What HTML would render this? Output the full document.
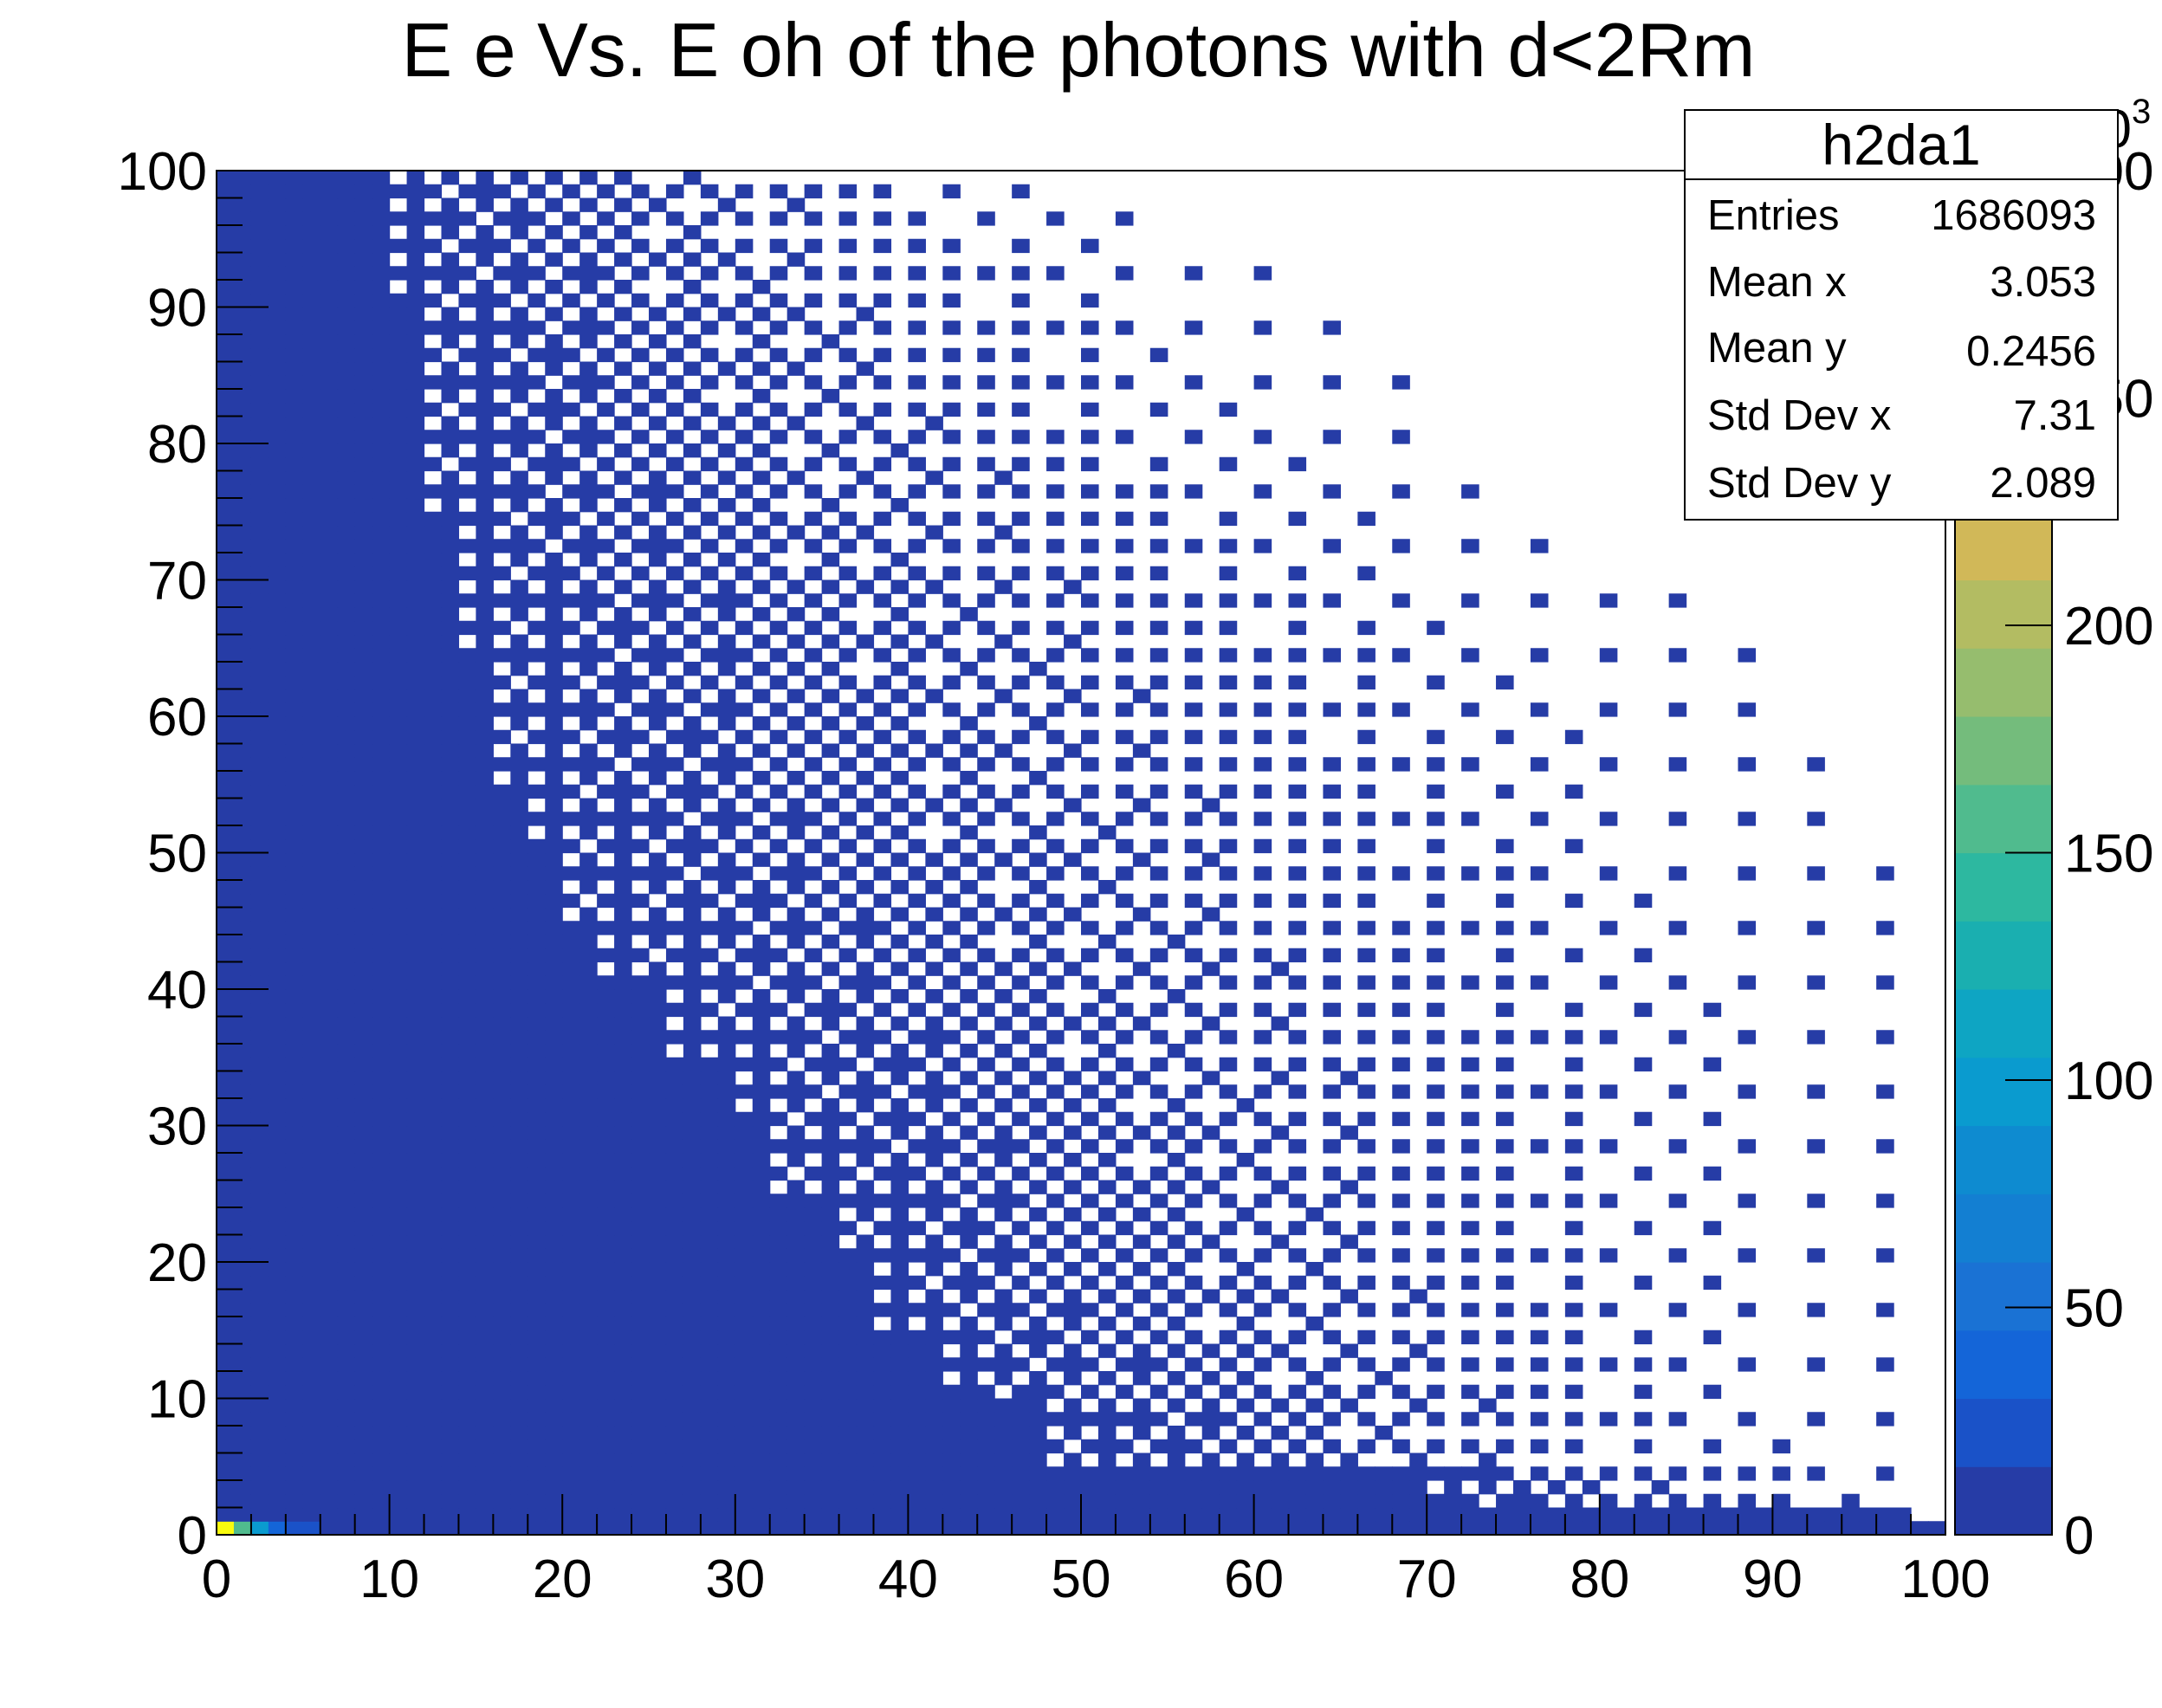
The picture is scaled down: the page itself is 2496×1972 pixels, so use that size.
<!DOCTYPE html>
<html><head><meta charset="utf-8"><style>
html,body{margin:0;padding:0;background:#fff;}
svg{display:block;font-family:"Liberation Sans",sans-serif;}
</style></head><body>
<svg id="c" width="2496" height="1972" viewBox="0 0 2496 1972" xmlns="http://www.w3.org/2000/svg">
<text x="1245" y="88" font-size="88" text-anchor="middle">E e Vs. E oh of the photons with d&lt;2Rm</text>
<g id="cells"></g>
<g id="pal"></g>
<g id="axes"></g>
<text x="2392" y="170" font-size="62">10<tspan dy="-28" font-size="40">3</tspan></text>
<g>
<rect x="1945" y="127" width="500" height="473" fill="#fff" stroke="#000" stroke-width="2"/>
<line x1="1945" y1="207" x2="2445" y2="207" stroke="#000" stroke-width="2"/>
<text x="2195" y="190" font-size="66" text-anchor="middle">h2da1</text>
<g font-size="49">
<text x="1971" y="265">Entries</text><text x="2420" y="265" text-anchor="end">1686093</text>
<text x="1971" y="342">Mean x</text><text x="2420" y="342" text-anchor="end">3.053</text>
<text x="1971" y="418">Mean y</text><text x="2420" y="422" text-anchor="end">0.2456</text>
<text x="1971" y="496">Std Dev x</text><text x="2420" y="496" text-anchor="end">7.31</text>
<text x="1971" y="574">Std Dev y</text><text x="2420" y="574" text-anchor="end">2.089</text>
</g></g>
</svg>
<script>
// ---- data ----
const xTicks = [0,10,20,30,40,50,60,70,80,90,100];
const yTicks = [0,10,20,30,40,50,60,70,80,90,100];
const zTicks = [0,50,100,150,200,250,300];
const zTickLabels = ["0","50","100","150","200","250","300"];
// per 5-unit y band: x where solid fill ends, x where sparse region ends
const bandSolidEnd = [70,48,42,38,35,32,29,26,22,20,18,16,15,14,13,12,12,11,10,10];
const bandFadeEnd  = [100,100,100,100,100,100,100,100,98,98,96,94,90,86,80,76,70,68,62,55];
const bottomRowsSolidEnd = [100,97,72];
// bottom row high counts (x10^3)
const bottomRowCounts = [290,160,90,40,25,20];
const lowCount = 5;
const paletteColors = ["#263ca6","#1a52c8","#1465d8","#1a72d4","#137fd2","#0e8bd0","#0a9bcf","#0ea5c3","#1aafb0","#2db8a0","#50bb8e","#74bc7c","#96bd6e","#b3bc62","#d1b858","#e6b84b","#f5c23a","#f9d32a","#f5e41e","#f9fb0e"];
// ---- layout ----
const X0=250,X1=2246,Y0=1772,Y1=197, ZMAX=300;
const sx=v=>X0+(X1-X0)*v/100, sy=v=>Y0-(Y0-Y1)*v/100;
const sz=v=>Y0-(Y0-Y1)*v/ZMAX;
const NS="http://www.w3.org/2000/svg";
function mk(t,a,p){const e=document.createElementNS(NS,t);for(const k in a)e.setAttribute(k,a[k]);p.appendChild(e);return e;}
const colorFor=c=>paletteColors[Math.min(19,Math.floor(c/(ZMAX/20)))];
const bayer=[[0,8,2,10],[12,4,14,6],[3,11,1,9],[15,7,13,5]];
const cells=document.getElementById('cells');
for(let j=0;j<100;j++){
  const b=Math.floor(j/5);
  const solid = j<bottomRowsSolidEnd.length? bottomRowsSolidEnd[j] : bandSolidEnd[b];
  const fade = bandFadeEnd[b];
  for(let i=0;i<100;i++){
    let on=false;
    if(i<solid) on=true;
    else if(i<fade){
      const t=(i-solid)/(fade-solid);
      const d=0.03+0.7*Math.pow(1-t,1.4);
      on = (bayer[j%4][i%4]+0.5)/16 < d;
    }
    if(!on) continue;
    const c=(j===0&&i<bottomRowCounts.length)?bottomRowCounts[i]:lowCount;
    const r=mk('rect',{x:sx(i).toFixed(2),y:sy(j+1).toFixed(2),width:(sx(i+1)-sx(i)+0.6).toFixed(2),height:(sy(j)-sy(j+1)+0.6).toFixed(2),fill:colorFor(c)},cells);
    
    
  }
}
// palette
const pal=document.getElementById('pal');
paletteColors.forEach((col,k)=>{
  const r=mk('rect',{x:2257,y:sz((k+1)*15).toFixed(2),width:112,height:(sz(k*15)-sz((k+1)*15)+0.6).toFixed(2),fill:col},pal);
  
  
});
mk('rect',{x:2257,y:Y1,width:112,height:Y0-Y1,fill:'none',stroke:'#000','stroke-width':2},pal);
zTicks.forEach((v,k)=>{
  mk('line',{x1:2315,x2:2369,y1:sz(v),y2:sz(v),stroke:'#000','stroke-width':2},pal);
  const t=mk('text',{x:2383,y:sz(v)+22,'font-size':62},pal);t.textContent=zTickLabels[k];
  
  
});
// axes
const ax=document.getElementById('axes');
mk('rect',{x:X0,y:Y1,width:X1-X0,height:Y0-Y1,fill:'none',stroke:'#000','stroke-width':2},ax);
for(let v=0;v<=100;v+=2){
  const major=v%10===0;
  mk('line',{x1:sx(v),x2:sx(v),y1:Y0,y2:Y0-(major?47:24),stroke:'#000','stroke-width':2},ax);
  mk('line',{x1:X0,x2:X0+(major?60:30),y1:sy(v),y2:sy(v),stroke:'#000','stroke-width':2},ax);
}
xTicks.forEach(v=>{
  const t=mk('text',{x:sx(v),y:1844,'font-size':62,'text-anchor':'middle'},ax);t.textContent=v;
  
  
});
yTicks.forEach(v=>{
  const t=mk('text',{x:239,y:sy(v)+22,'font-size':62,'text-anchor':'end'},ax);t.textContent=v;
  
  
});
</script>
</body></html>
